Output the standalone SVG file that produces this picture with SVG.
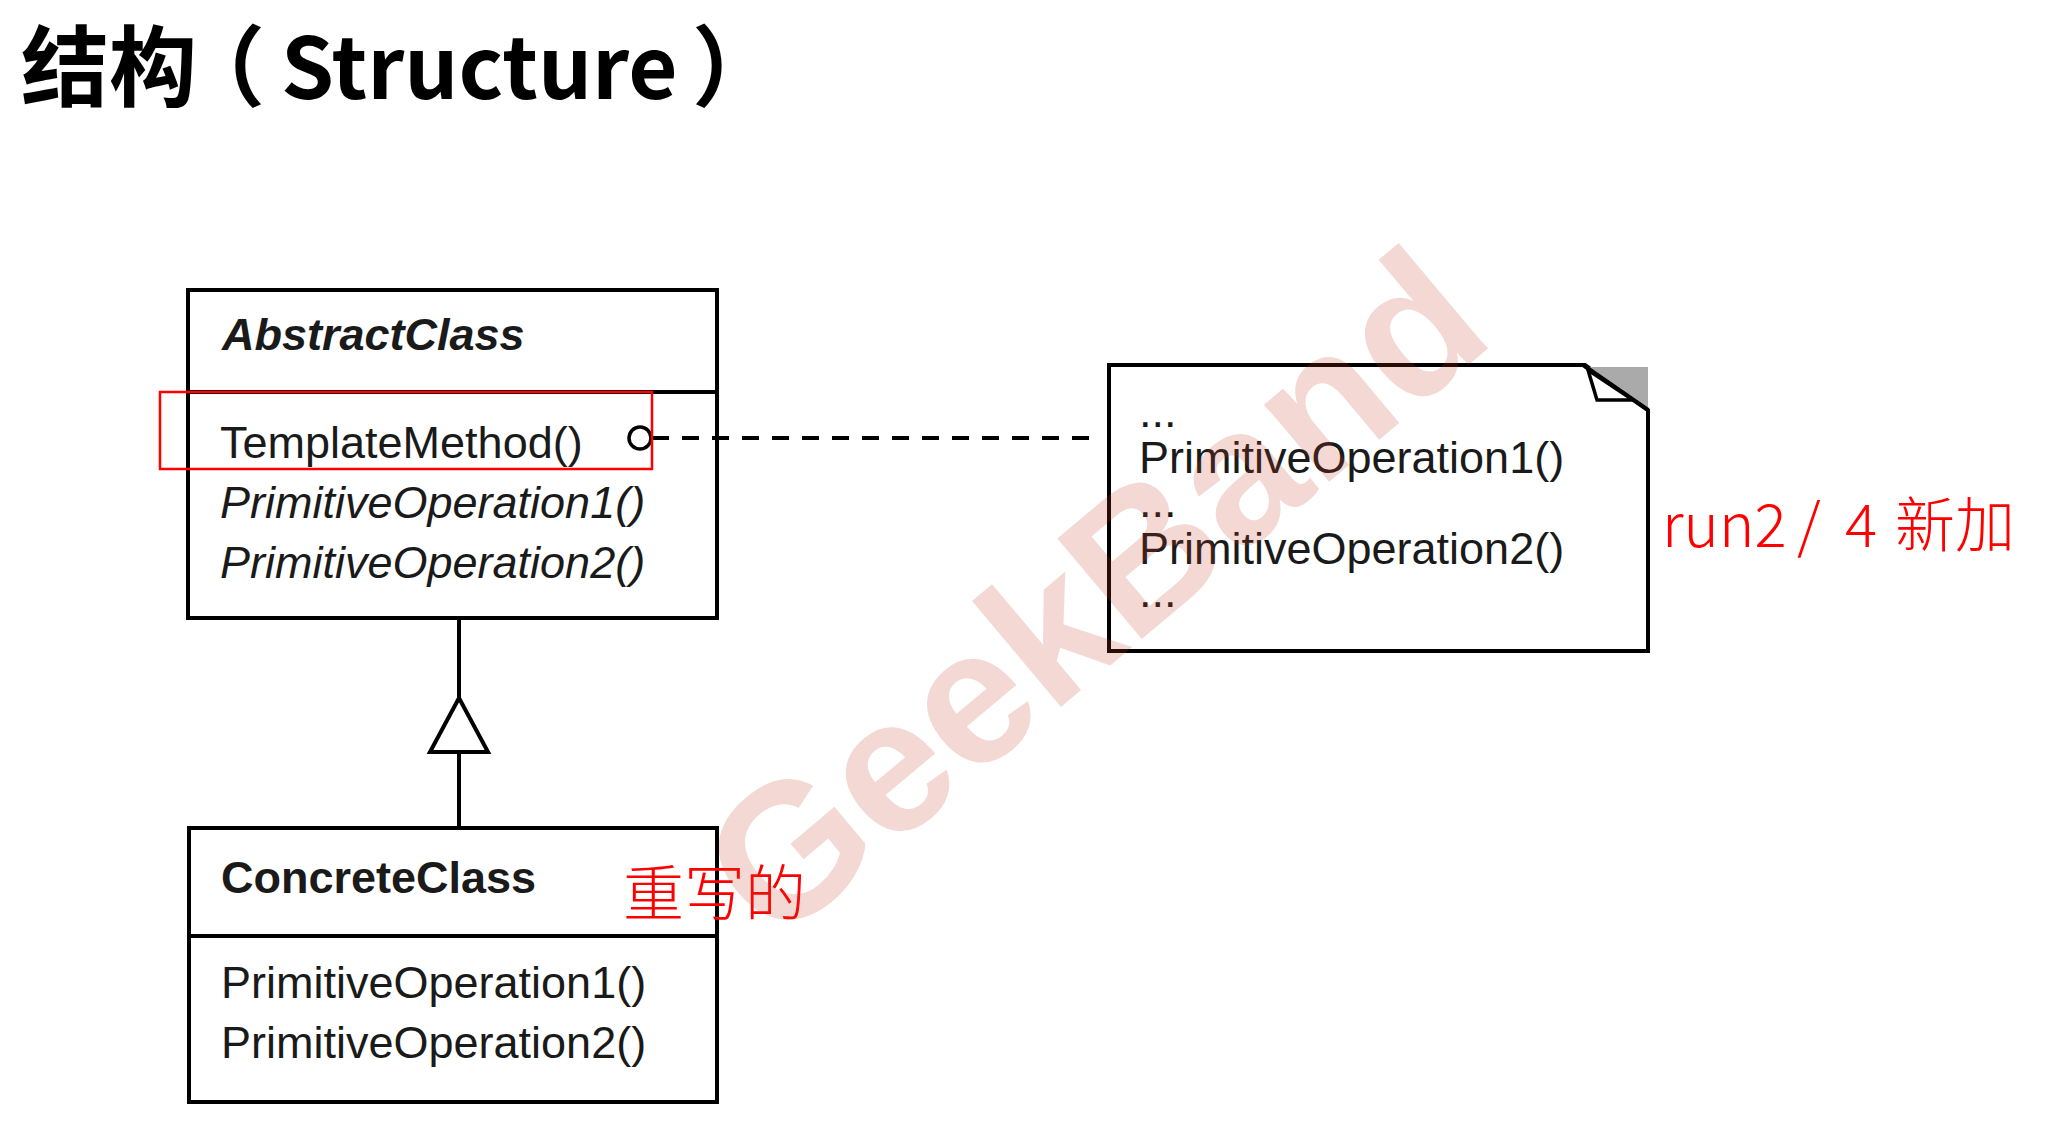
<svg xmlns="http://www.w3.org/2000/svg" width="2058" height="1135" viewBox="0 0 2058 1135">
<style>
.box{fill:#fff;stroke:#000;stroke-width:4}
.ln{fill:none;stroke:#000;stroke-width:4}
.t{font-family:"Liberation Sans",Arial,sans-serif;font-size:45px;fill:#1a1a1a}
.b{font-weight:bold}
.i{font-style:italic}
.red{font-family:"Noto Sans CJK SC","Noto Sans",sans-serif;fill:#ff0000;font-weight:300}
.title{font-family:"Noto Sans CJK SC","Noto Sans",sans-serif;font-size:88px;font-weight:bold;fill:#000}
</style>
<rect width="2058" height="1135" fill="#fff"/>
<text class="title" x="21" y="99">结构<tspan x="177">（</tspan><tspan x="281" font-size="85">Structure</tspan><tspan x="692">）</tspan></text>

<g id="AbstractClass">
  <rect class="box" x="188" y="290" width="529" height="328"/>
  <line class="ln" x1="188" y1="392" x2="717" y2="392"/>
  <text class="t b i" x="222" y="350">AbstractClass</text>
  <text class="t" x="220" y="458">TemplateMethod()</text>
  <text class="t i" x="220" y="518">PrimitiveOperation1()</text>
  <text class="t i" x="220" y="578">PrimitiveOperation2()</text>
</g>

<g id="ConcreteClass">
  <rect class="box" x="189" y="828" width="528" height="274"/>
  <line class="ln" x1="189" y1="936" x2="717" y2="936"/>
  <text class="t b" x="221" y="893">ConcreteClass</text>
  <text class="t" x="221" y="998">PrimitiveOperation1()</text>
  <text class="t" x="221" y="1058">PrimitiveOperation2()</text>
</g>

<g id="Note">
  <polygon class="box" points="1109,365 1585,365 1648,410 1648,651 1109,651"/>
  <polygon points="1588,367 1648,367 1648,408" fill="#aaaaaa"/>
  <line class="ln" x1="1583" y1="365" x2="1648" y2="410"/>
  <polygon points="1588,370 1597,400 1633,400" fill="#fff" stroke="#000" stroke-width="3.5"/>
  <text class="t" x="1139" y="427">...</text>
  <text class="t" x="1139" y="473">PrimitiveOperation1()</text>
  <text class="t" x="1139" y="517">...</text>
  <text class="t" x="1139" y="564">PrimitiveOperation2()</text>
  <text class="t" x="1139" y="607">...</text>
</g>

<g id="connectors">
  <line class="ln" x1="459" y1="618" x2="459" y2="698"/>
  <line class="ln" x1="459" y1="752" x2="459" y2="828"/>
  <polygon class="box" points="459,698 430,752 488,752"/>
  <line x1="652" y1="438" x2="1096" y2="438" stroke="#000" stroke-width="4" stroke-dasharray="17 13"/>
  <circle cx="640" cy="438" r="11" fill="#fff" stroke="#000" stroke-width="3.5"/>
</g>

<g id="highlight">
  <rect x="160" y="392" width="492" height="77" fill="none" stroke="#ff0000" stroke-width="2.5"/>
</g>

<g id="annotations">
  <text class="red" font-size="60" y="547"><tspan x="1662">run2</tspan><tspan x="1797">/</tspan><tspan x="1845">4</tspan><tspan x="1895">新加</tspan></text>
  <text class="red" font-size="61" x="623" y="916">重写的</text>
</g>

<text x="0" y="0" transform="translate(1136,644) rotate(-40)" text-anchor="middle" font-family="Liberation Sans,Arial,sans-serif" font-weight="bold" font-size="191" fill="rgb(200,60,40)" fill-opacity="0.2">GeekBand</text>
</svg>
